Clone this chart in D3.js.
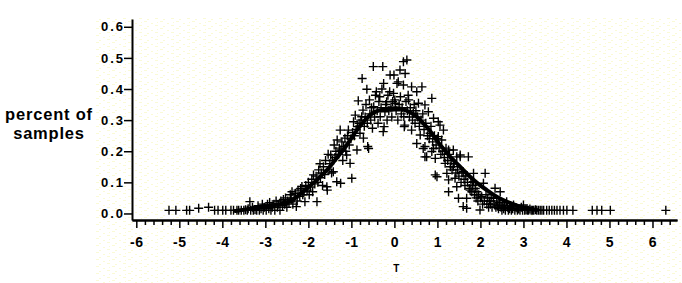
<!DOCTYPE html>
<html><head><meta charset="utf-8">
<script src="https://cdn.jsdelivr.net/npm/d3@7"></script>
<style>
html,body{margin:0;padding:0;background:#fff;}
svg{display:block;}
</style></head>
<body>
<svg id="chart" width="682" height="283"></svg>
<script>
// ---- data ----
const xTicks = [-6,-5,-4,-3,-2,-1,0,1,2,3,4,5,6];
const yTicks = [0.0,0.1,0.2,0.3,0.4,0.5,0.6];
const yTitle = ["percent of","samples"];
const xTitle = "T";

const sampleT = [
-5.24,-5.08,-4.83,-4.76,-4.55,-4.32,-4.18,-4.10,-3.99,-3.92,-3.80,-3.74,-3.66,-3.62,-3.56,-3.50,-3.46,-3.42,-3.40,-3.36,-3.34,-3.30,-3.28,-3.24,-3.20,-3.17,-3.14,-3.10,-3.07,-3.05,-3.02,-2.98,-2.95,-2.92,-2.90,-2.87,-2.84,-2.80,-2.78,-2.75,-2.72,-2.70,-2.66,-2.64,-2.60,-2.58,-2.55,-2.53,-2.50,-2.48,-2.45,-2.42,-2.40,-2.38,-2.36,-2.33,-2.30,-2.28,-2.26,-2.24,-2.20,-2.18,-2.15,-2.13,-2.10,-2.08,-2.06,-2.03,-2.00,-1.98,-1.95,-1.92,-1.90,-1.88,-1.85,-1.82,-1.80,-1.78,-1.76,-1.73,-1.72,-1.70,-1.67,-1.65,-1.62,-1.60,-1.57,-1.56,-1.54,-1.52,-1.50,-1.48,-1.46,-1.44,-1.42,-1.40,-1.38,-1.36,-1.34,-1.33,-1.30,-1.28,-1.26,-1.25,-1.24,-1.22,-1.20,-1.18,-1.15,-1.13,-1.11,-1.09,-1.07,-1.05,-1.03,-1.01,-0.99,-0.97,-0.95,-0.93,-0.91,-0.89,-0.87,-0.86,-0.84,-0.82,-0.80,-0.78,-0.76,-0.75,-0.73,-0.72,-0.70,-0.68,-0.66,-0.64,-0.63,-0.62,-0.60,-0.58,-0.57,-0.55,-0.53,-0.51,-0.49,-0.48,-0.46,-0.44,-0.42,-0.40,-0.38,-0.36,-0.34,-0.33,-0.31,-0.29,-0.27,-0.26,-0.25,-0.24,-0.22,-0.20,-0.18,-0.17,-0.15,-0.13,-0.11,-0.10,-0.08,-0.06,-0.04,-0.02,-0.01,0.01,0.02,0.04,0.06,0.08,0.09,0.11,0.13,0.14,0.16,0.18,0.21,0.21,0.22,0.23,0.24,0.25,0.27,0.29,0.30,0.32,0.33,0.35,0.37,0.40,0.40,0.42,0.44,0.46,0.48,0.50,0.52,0.52,0.54,0.56,0.58,0.60,0.62,0.64,0.66,0.67,0.69,0.71,0.71,0.71,0.73,0.75,0.77,0.79,0.81,0.83,0.85,0.87,0.87,0.89,0.91,0.91,0.93,0.95,0.95,0.97,0.99,1.00,1.02,1.02,1.04,1.06,1.08,1.10,1.12,1.14,1.16,1.18,1.20,1.22,1.24,1.26,1.26,1.26,1.28,1.30,1.32,1.34,1.37,1.37,1.39,1.41,1.43,1.45,1.45,1.47,1.49,1.50,1.53,1.53,1.55,1.57,1.60,1.60,1.62,1.64,1.66,1.68,1.68,1.70,1.72,1.74,1.76,1.78,1.80,1.82,1.84,1.84,1.86,1.88,1.90,1.92,1.94,1.96,1.99,2.00,2.03,2.05,2.07,2.09,2.11,2.13,2.15,2.17,2.19,2.21,2.23,2.25,2.27,2.30,2.32,2.34,2.36,2.38,2.40,2.42,2.44,2.46,2.48,2.50,2.52,2.54,2.56,2.58,2.61,2.63,2.65,2.68,2.70,2.72,2.75,2.77,2.80,2.83,2.86,2.89,2.92,2.95,2.98,3.00,3.03,3.06,3.09,3.12,3.15,3.18,3.21,3.24,3.28,3.31,3.35,3.39,3.43,3.47,3.54,3.60,3.66,3.72,3.78,3.85,3.93,4.01,4.15,4.60,4.71,4.82,5.02,6.31
];
const samplePct = [
.010,.010,.010,.010,.017,.020,.010,.010,.010,.010,.010,.010,.010,.010,.010,.010,.012,.010,.015,.038,.010,.020,.010,.012,.010,.025,.010,.015,.030,.010,.020,.010,.030,.015,.035,.010,.020,.030,.010,.040,.020,.030,.010,.040,.025,.045,.030,.050,.020,.040,.035,.060,.045,.070,.030,.050,.065,.022,.040,.075,.055,.080,.087,.060,.070,.038,.090,.075,.100,.060,.085,.110,.070,.124,.095,.120,.038,.100,.140,.160,.115,.130,.090,.150,.125,.170,.086,.075,.190,.140,.160,.188,.130,.170,.134,.220,.180,.200,.102,.236,.190,.210,.268,.097,.204,.230,.170,.215,.242,.200,.188,.250,.268,.220,.161,.240,.113,.260,.295,.250,.316,.270,.204,.279,.362,.290,.258,.300,.311,.434,.332,.242,.280,.310,.350,.399,.290,.215,.209,.365,.320,.300,.340,.274,.472,.343,.310,.380,.391,.330,.290,.360,.375,.311,.340,.400,.472,.263,.418,.279,.327,.350,.359,.300,.380,.330,.391,.445,.340,.310,.360,.386,.445,.365,.354,.330,.418,.300,.423,.350,.461,.375,.320,.340,.488,.413,.311,.279,.284,.450,.360,.493,.330,.380,.365,.310,.340,.407,.268,.300,.322,.350,.290,.330,.391,.225,.310,.354,.280,.252,.300,.407,.320,.209,.270,.349,.215,.182,.290,.182,.250,.327,.240,.258,.280,.370,.199,.230,.306,.209,.250,.177,.124,.220,.118,.240,.295,.247,.210,.284,.190,.236,.200,.268,.180,.161,.210,.129,.170,.204,.108,.070,.190,.150,.170,.140,.204,.150,.160,.113,.130,.182,.086,.140,.049,.120,.188,.182,.100,.130,.134,.022,.110,.090,.120,.049,.017,.100,.182,.080,.075,.100,.070,.090,.102,.129,.060,.080,.050,.070,.040,.060,.011,.050,.054,.030,.097,.040,.129,.060,.030,.050,.020,.040,.030,.050,.020,.049,.030,.081,.020,.040,.025,.015,.035,.070,.020,.010,.030,.015,.025,.010,.038,.020,.010,.015,.025,.010,.015,.027,.010,.018,.010,.014,.010,.020,.010,.027,.010,.012,.010,.010,.014,.010,.010,.010,.012,.010,.010,.010,.010,.010,.010,.010,.010,.010,.010,.010,.010,.010,.010,.010,.010,.010,.010,.010
];

const curveT   = [-3.70,-3.40,-3.05,-2.75,-2.50,-2.30,-2.12,-1.95,-1.80,-1.65,-1.50,-1.35,-1.19,-1.03,-0.87,-0.72,-0.57,-0.42,-0.26,-0.10,0.05,0.20,0.35,0.52,0.67,0.83,0.99,1.14,1.30,1.45,1.60,1.76,1.95,2.15,2.35,2.53,2.72,2.92,3.10,3.31];
const curvePct = [.008,.014,.022,.028,.035,.050,.070,.090,.108,.128,.150,.177,.204,.236,.268,.294,.316,.328,.334,.338,.338,.335,.326,.311,.290,.265,.234,.208,.182,.161,.140,.118,.095,.075,.056,.043,.032,.022,.016,.011];

// ---- drawing ----
const svg = d3.select("#chart");
const W = 682, H = 283;

// faint speckled paper background
const defs = svg.append("defs");
const pat = defs.append("pattern").attr("id","paper").attr("patternUnits","userSpaceOnUse")
  .attr("width",16).attr("height",7);
const specks = [[0,0,3],[7,2,2],[11,4,3],[3,5,2],[13,1,1]];
pat.selectAll("rect").data(specks).join("rect")
  .attr("x",d=>d[0]).attr("y",d=>d[1]).attr("width",d=>d[2]).attr("height",1)
  .attr("fill","#fafad6");
svg.append("rect").attr("x",96).attr("y",18).attr("width",W-96).attr("height",H-18)
  .attr("fill","url(#paper)");

const x = d3.scaleLinear().domain([-6.1, 6.57]).range([132, 677]);
const y = d3.scaleLinear().domain([-0.021, 0.625]).range([220, 19]);

const fontTick = "'Liberation Sans', Arial, Helvetica, sans-serif";

// x axis minor ticks
const minor = d3.range(-30, 33).map(i => i/5).filter(v => Math.abs(v - Math.round(v)) > 1e-6);
const xMinor = svg.append("g").attr("transform","translate(0,220)")
  .call(d3.axisBottom(x).tickValues(minor).tickSize(5).tickSizeOuter(0).tickFormat(""));
const xMajor = svg.append("g").attr("transform","translate(0,220)")
  .call(d3.axisBottom(x).tickValues(xTicks).tickSize(8).tickSizeOuter(0).tickPadding(9)
    .tickFormat(d => String(d)));
[xMinor, xMajor].forEach(g => {
  g.selectAll("line").attr("stroke","#000").attr("stroke-width",1.5);
  g.select(".domain").attr("stroke","#000").attr("stroke-width",2);
});
xMajor.selectAll("text").attr("font-family",fontTick).attr("font-weight","bold")
  .attr("font-size",14).attr("fill","#000").attr("letter-spacing","0.5px");

// y axis
const yAxis = svg.append("g").attr("transform","translate(132,0)")
  .call(d3.axisLeft(y).tickValues(yTicks).tickSize(8).tickSizeOuter(0).tickPadding(10)
    .tickFormat(d3.format(".1f")));
yAxis.selectAll("line").attr("stroke","#000").attr("stroke-width",1.5);
yAxis.select(".domain").attr("stroke","#000").attr("stroke-width",2);
yAxis.selectAll("text").attr("font-family",fontTick).attr("font-weight","bold")
  .attr("font-size",13).attr("fill","#000").attr("letter-spacing","2px")
  .attr("text-anchor","start").attr("x",-31);

// axis titles (two separate lines)
svg.append("g").selectAll("text").data(yTitle).join("text")
  .attr("font-family",fontTick).attr("font-weight","bold")
  .attr("font-size",16.5).attr("letter-spacing","0.8px")
  .attr("text-anchor","middle").attr("fill","#000")
  .attr("x",49).attr("y",(d,i)=>120 + i*19).text(d=>d);
svg.append("text").attr("x",x(0)+2).attr("y",272).attr("text-anchor","middle")
  .attr("font-family",fontTick).attr("font-weight","bold").attr("font-size",10)
  .attr("fill","#000").text(xTitle);

// sample points as plus markers
const pts = sampleT.map((t,i)=>({t, p: samplePct[i]}));
svg.append("g").selectAll("path").data(pts).join("path")
  .attr("transform", d => `translate(${x(d.t)},${y(d.p)})`)
  .attr("d","M-4.5,0H4.5M0,-4.5V4.5")
  .attr("stroke","#000").attr("stroke-width",1.4).attr("fill","none");

// fitted curve
const line = d3.line().x((d,i)=>x(curveT[i])).y(d=>y(d)).curve(d3.curveMonotoneX);
svg.append("path").datum(curvePct).attr("d", line)
  .attr("fill","none").attr("stroke","#000").attr("stroke-width",4)
  .attr("stroke-linejoin","round").attr("stroke-linecap","round");
</script>
</body></html>
